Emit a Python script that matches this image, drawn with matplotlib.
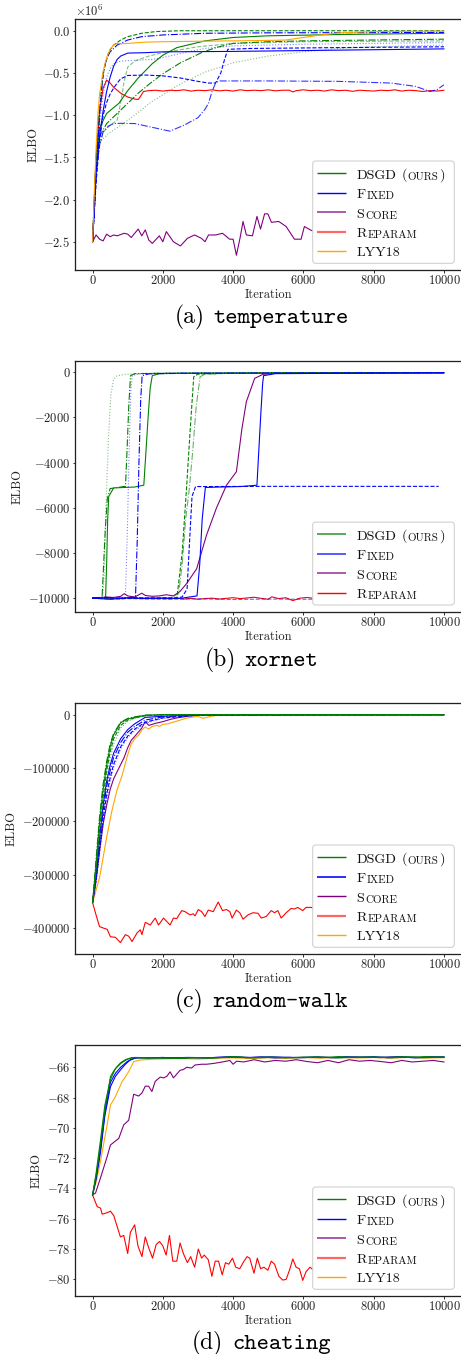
import matplotlib
matplotlib.use("Agg")
import matplotlib.pyplot as plt
from matplotlib.patches import FancyBboxPatch
from matplotlib.lines import Line2D
from matplotlib.text import Annotation
from matplotlib.transforms import IdentityTransform
from matplotlib.offsetbox import TextArea, HPacker, AnchoredOffsetbox

# ---------------- fonturi / stil ----------------
plt.rcParams['font.family'] = 'serif'
plt.rcParams['font.serif'] = ['cmr10']
plt.rcParams['mathtext.fontset'] = 'cm'
plt.rcParams['axes.formatter.use_mathtext'] = True

FIG_W, FIG_H, DPI = 461, 1354, 72

# ============================ (a) temperature (valori x 1e6) ============================
a_dsgd_dashed = [(0, -2.5), (80, -1.7), (160, -1.1), (250, -0.7), (330, -0.45), (460, -0.25), (600, -0.17),
                 (800, -0.11), (1000, -0.07), (1400, -0.03), (1800, -0.01), (2500, 0.0), (10000, 0.0)]
a_dsgd_solid = [(0, -2.5), (100, -1.55), (200, -1.15), (400, -0.98), (750, -0.86), (1000, -0.71), (1300, -0.56),
                (1700, -0.39), (2000, -0.29), (2400, -0.2), (3200, -0.12), (4000, -0.08), (5000, -0.06),
                (7000, -0.045), (10000, -0.03)]
a_dsgd_dashdot = [(0, -2.5), (100, -1.5), (200, -1.25), (400, -1.1), (700, -0.98), (1000, -0.86), (1300, -0.74),
                  (1650, -0.62), (2000, -0.51), (2500, -0.38), (3150, -0.25), (3600, -0.19), (4000, -0.15),
                  (5000, -0.13), (6000, -0.12), (8000, -0.11), (10000, -0.1)]
a_dsgd_dotted = [(0, -2.5), (100, -1.65), (200, -1.32), (450, -1.22), (800, -1.12), (1200, -1.0), (1650, -0.85),
                 (2000, -0.76), (2500, -0.63), (3200, -0.49), (4000, -0.38), (5000, -0.3), (6000, -0.25),
                 (7000, -0.21), (8000, -0.19), (10000, -0.17)]
a_dsgd_dashed2 = [(0, -2.5), (150, -1.45), (300, -1.2), (500, -1.12), (700, -1.06), (800, -0.85), (900, -0.6),
                  (1000, -0.43), (1200, -0.36), (1600, -0.3), (2000, -0.26), (3000, -0.19), (4000, -0.15),
                  (6000, -0.13), (10000, -0.12)]

a_fixed_solid = [(0, -2.5), (100, -1.7), (200, -1.25), (300, -0.95), (400, -0.72), (500, -0.55), (600, -0.42),
                 (700, -0.34), (800, -0.3), (1000, -0.265), (1500, -0.26), (2000, -0.25), (4000, -0.245),
                 (6000, -0.235), (8000, -0.225), (10000, -0.215)]
a_fixed_dashed = [(0, -2.5), (100, -1.8), (200, -1.3), (300, -1.0), (400, -0.85), (500, -0.75), (600, -0.68),
                  (700, -0.62), (800, -0.57), (1000, -0.53), (1500, -0.525), (2000, -0.535), (2500, -0.56),
                  (3000, -0.6), (3300, -0.62), (3500, -0.62), (3650, -0.5), (3750, -0.35), (3850, -0.22),
                  (4500, -0.21), (7000, -0.2), (10000, -0.19)]
a_fixed_dashdot = [(0, -2.5), (100, -1.7), (200, -1.35), (300, -1.2), (450, -1.13), (600, -1.1), (800, -1.097),
                   (1200, -1.1), (1650, -1.14), (2200, -1.19), (2600, -1.12), (3000, -1.03), (3200, -0.93),
                   (3300, -0.86), (3400, -0.72), (3500, -0.62), (3600, -0.595), (5000, -0.595), (7000, -0.6),
                   (8500, -0.62), (9200, -0.66), (9600, -0.72), (9800, -0.7), (10000, -0.64)]
a_fixed_dotted = [(0, -2.5), (100, -1.7), (200, -1.1), (300, -0.75), (400, -0.55), (500, -0.45), (600, -0.39),
                  (800, -0.36), (1200, -0.35), (1700, -0.34), (2200, -0.3), (2700, -0.25), (3200, -0.21),
                  (4000, -0.18), (6000, -0.16), (8000, -0.15), (10000, -0.14)]
a_fixed_dashdot2 = [(0, -2.5), (100, -1.7), (200, -1.0), (300, -0.5), (400, -0.33), (500, -0.25), (700, -0.17),
                    (1000, -0.11), (1400, -0.07), (2000, -0.05), (3200, -0.03), (5000, -0.025), (10000, -0.02)]

a_score = [(0, -2.5), (100, -2.42), (200, -2.47), (300, -2.49), (400, -2.41), (500, -2.44), (600, -2.42),
           (700, -2.43), (900, -2.40), (1000, -2.41), (1100, -2.45), (1300, -2.35), (1400, -2.43), (1500, -2.36),
           (1600, -2.48), (1700, -2.52), (1900, -2.43), (2000, -2.5), (2100, -2.38), (2300, -2.5), (2500, -2.55),
           (2700, -2.46), (2900, -2.42), (3100, -2.46), (3200, -2.5), (3300, -2.42), (3500, -2.42), (3700, -2.4),
           (3900, -2.47), (4000, -2.47), (4094, -2.66), (4200, -2.45), (4283, -2.26), (4377, -2.42),
           (4550, -2.43), (4679, -2.2), (4780, -2.35), (4896, -2.17), (4990, -2.17), (5090, -2.27),
           (5300, -2.26), (5509, -2.32), (5745, -2.47), (5934, -2.47), (6028, -2.32), (6200, -2.36),
           (6400, -2.4), (6700, -2.35), (7000, -2.42), (7300, -2.38), (7600, -2.44), (8000, -2.37),
           (8400, -2.41), (8800, -2.36), (9200, -2.42), (9600, -2.38), (10000, -2.4)]
a_reparam = [(0, -2.5), (100, -1.5), (200, -0.95), (300, -0.68), (400, -0.585), (500, -0.62), (600, -0.67),
             (800, -0.74), (1000, -0.785), (1200, -0.81), (1300, -0.815), (1360, -0.78), (1450, -0.72),
             (1600, -0.71), (1800, -0.705), (2000, -0.715), (2200, -0.705), (2400, -0.71), (2600, -0.7),
             (2800, -0.715), (3000, -0.705), (3200, -0.71), (3400, -0.7), (3600, -0.712), (3800, -0.705),
             (4000, -0.715), (4200, -0.7), (4400, -0.71), (4600, -0.705), (4800, -0.71), (5000, -0.7),
             (5200, -0.712), (5400, -0.705), (5600, -0.705), (5700, -0.725), (5800, -0.71), (6000, -0.7),
             (6200, -0.71), (6400, -0.705), (6600, -0.715), (6800, -0.7), (7000, -0.71), (7200, -0.705),
             (7400, -0.718), (7600, -0.705), (7800, -0.71), (8000, -0.715), (8200, -0.705), (8400, -0.71),
             (8600, -0.7), (8800, -0.715), (9000, -0.705), (9200, -0.71), (9400, -0.72), (9600, -0.71),
             (9800, -0.715), (10000, -0.705)]
a_lyy18 = [(0, -2.5), (50, -1.9), (100, -1.4), (150, -1.0), (200, -0.75), (300, -0.48), (400, -0.32),
           (500, -0.22), (600, -0.17), (700, -0.15), (800, -0.155), (1000, -0.15), (1500, -0.135),
           (2000, -0.13), (3000, -0.125), (4000, -0.12), (5000, -0.115), (5500, -0.11), (6000, -0.08),
           (6500, -0.05), (7000, -0.025), (8000, -0.01), (10000, -0.005)]

# ============================ (b) xornet ============================
b_dsgd_dotted = [(0, -10000), (150, -9980), (290, -9990), (330, -9000), (380, -6000), (450, -3000),
                 (520, -1000), (600, -300), (700, -150), (1000, -80), (2000, -40), (10000, -20)]
b_dsgd_dashdot = [(0, -10000), (150, -9970), (270, -9990), (300, -9000), (360, -7000), (420, -5600),
                  (500, -5150), (700, -5100), (937, -5050), (980, -3500), (1030, -1500), (1080, -150),
                  (1200, -60), (2000, -40), (10000, -20)]
b_dsgd_solid = [(0, -10000), (200, -9980), (370, -9990), (400, -8500), (430, -6500), (460, -5500),
                (600, -5120), (900, -5100), (1200, -5080), (1458, -5000), (1520, -3500), (1580, -2000),
                (1640, -700), (1700, -150), (1900, -60), (3000, -40), (10000, -20)]
b_dsgd_dashed = [(0, -10000), (500, -10010), (1000, -9990), (1500, -10000), (2000, -9980), (2400, -9990),
                 (2550, -8000), (2680, -5000), (2780, -2500), (2879, -200), (3000, -80), (4000, -40),
                 (10000, -20)]
b_dsgd_dashdot2 = [(0, -10000), (600, -9990), (1200, -10010), (1800, -9990), (2200, -10000), (2450, -9800),
                   (2550, -8500), (2650, -6500), (2750, -5200), (2850, -3500), (2950, -1500), (3060, -200),
                   (3200, -80), (4000, -40), (10000, -20)]
b_fixed_dotted = [(0, -10000), (300, -9950), (600, -10010), (900, -9990), (937, -9900), (990, -7000),
                  (1040, -3500), (1090, -800), (1127, -150), (1300, -70), (2000, -40), (10000, -20)]
b_fixed_dashdot = [(0, -10000), (300, -9960), (700, -10000), (1000, -9990), (1222, -9950), (1270, -7500),
                   (1320, -4000), (1370, -1200), (1411, -150), (1600, -70), (2500, -40), (10000, -20)]
b_fixed_dashed = [(0, -10000), (400, -9980), (800, -10030), (1200, -9980), (1600, -10000), (2000, -10010),
                  (2400, -9990), (2547, -9950), (2690, -9600), (2760, -7500), (2830, -5500), (2930, -5060),
                  (5000, -5050), (7000, -5050), (9850, -5050)]
b_fixed_solid = [(0, -10000), (500, -10050), (1000, -9990), (1500, -10020), (2000, -10000), (2500, -10010),
                 (2973, -9900), (3050, -8500), (3120, -6500), (3210, -5100), (3600, -5080), (4200, -5060),
                 (4678, -5000), (4730, -3500), (4790, -1800), (4840, -500), (4867, -150), (5200, -60),
                 (10000, -20)]
b_fixed_dashed2 = [(0, -10000), (500, -10040), (1000, -10020), (2000, -10050), (3000, -10030), (4000, -10060),
                   (5000, -10040), (6000, -10050), (7000, -10040), (8000, -10060), (9000, -10040),
                   (10000, -10050)]
b_score = [(0, -10000), (200, -9980), (400, -9950), (600, -9970), (800, -9920), (900, -9800), (1000, -9900),
           (1200, -9950), (1400, -9780), (1500, -9880), (1700, -9920), (1900, -9900), (2100, -9850),
           (2300, -9900), (2490, -9700), (2679, -9350), (2962, -8700), (3245, -7200), (3528, -6000),
           (3811, -5000), (4094, -4400), (4250, -2500), (4377, -1300), (4613, -270), (4849, -90),
           (5200, -40), (6000, -30), (8000, -20), (10000, -20)]
b_reparam = [(0, -10000), (200, -9980), (400, -10010), (600, -9990), (800, -10020), (1000, -9980),
             (1200, -10000), (1400, -10010), (1600, -9990), (1800, -10020), (2000, -10000), (2200, -10030),
             (2400, -10000), (2600, -10040), (2800, -10010), (3000, -10050), (3200, -10020), (3400, -10000),
             (3600, -10040), (3800, -10010), (4000, -9980), (4200, -10020), (4400, -9990), (4600, -9960),
             (4800, -10010), (5000, -10050), (5100, -9940), (5300, -10020), (5500, -9980), (5700, -10110),
             (5900, -10000), (6100, -9970), (6300, -10010), (6600, -9990), (7000, -10020), (7400, -9980),
             (7800, -10010), (8200, -9990), (8600, -10020), (9000, -9990), (9400, -10010), (9800, -9990),
             (10000, -10000)]

# ============================ (c) random-walk (valori x 1000) ============================
c_iter = [0, 100, 200, 300, 400, 500, 600, 800, 1000, 1200, 1500, 2000, 3000, 10000]
c_dsgd_solid = [-352, -280, -200, -140, -95, -60, -38, -15, -8, -5, -1, 0, 0, 0]
c_dsgd_dashed = [-352, -290, -215, -155, -105, -70, -45, -20, -10, -6, -2, -0.5, 0, 0]
c_dsgd_dashdot = [-352, -270, -190, -130, -88, -55, -35, -14, -7, -4, -1, 0, 0, 0]
c_dsgd_dotted = [-352, -300, -230, -170, -120, -82, -55, -25, -12, -7, -2, -1, 0, 0]
c_fixed_solid = [-352, -300, -230, -170, -125, -95, -72, -45, -28, -17, -5, -3, 0, 0]
c_fixed_dashed = [-352, -310, -250, -195, -150, -118, -93, -60, -40, -27, -14, -6, -1, 0]
c_fixed_dashdot = [-352, -305, -240, -180, -135, -105, -80, -52, -33, -22, -10, -4, 0, 0]
c_fixed_dotted = [-352, -315, -260, -205, -160, -125, -98, -64, -43, -30, -16, -7, -1, 0]
c_score = [(0, -352), (100, -310), (200, -255), (300, -205), (400, -170), (500, -140), (600, -120),
           (750, -100), (900, -80), (1000, -62), (1100, -48), (1222, -39), (1300, -33), (1400, -25),
           (1500, -13), (1600, -20), (1700, -18), (1800, -16), (2000, -13), (2200, -9), (2400, -6),
           (2600, -4), (2800, -2), (3000, -1), (3500, 0), (10000, 0)]
c_lyy18 = [(0, -352), (200, -305), (400, -230), (550, -180), (700, -140), (844, -113), (1000, -75),
           (1100, -55), (1200, -45), (1316, -38), (1410, -28), (1500, -23), (1594, -27), (1700, -22),
           (1830, -20), (1900, -22), (2000, -18), (2150, -17), (2300, -14), (2500, -10), (2700, -6),
           (2868, -4.4), (3000, -3), (3151, -7), (3300, -4), (3528, -1.2), (3800, -1), (4200, -0.5),
           (4500, -1.5), (5000, -0.5), (6000, -0.5), (7000, 0), (8000, -0.5), (9000, 0), (10000, 0)]
c_reparam = [(0, -352), (85, -372), (198, -397), (320, -400), (415, -402), (509, -416), (650, -417),
             (792, -427), (934, -412), (1028, -415), (1123, -425), (1264, -409), (1358, -403), (1405, -412),
             (1500, -389), (1641, -394), (1783, -381), (1877, -394), (2019, -381), (2207, -394), (2302, -381),
             (2396, -382), (2537, -367), (2632, -369), (2773, -375), (2868, -373), (2915, -377), (3009, -365),
             (3104, -369), (3198, -378), (3292, -366), (3434, -369), (3575, -351), (3698, -367), (3811, -365),
             (3906, -369), (3972, -381), (4094, -366), (4189, -371), (4283, -383), (4425, -375), (4566, -371),
             (4708, -372), (4802, -381), (4943, -378), (5085, -367), (5179, -371), (5273, -367), (5368, -381),
             (5509, -371), (5651, -363), (5745, -364), (5840, -361), (5981, -367), (6075, -361), (6217, -361),
             (6400, -364), (6700, -360), (7000, -363), (7300, -358), (7600, -362), (8000, -357), (8400, -360),
             (8800, -356), (9200, -359), (9600, -355), (10000, -357)]

# ============================ (d) cheating ============================
d_dsgd_a = [(0, -74.43), (100, -73.2), (226, -71.1), (350, -68.8), (509, -66.62), (600, -66.25), (698, -65.95),
            (800, -65.7), (934, -65.5), (1123, -65.36), (1500, -65.4), (2000, -65.38), (2500, -65.42),
            (3000, -65.37), (3500, -65.38), (4000, -65.3), (4500, -65.36), (5000, -65.33), (5500, -65.38),
            (6000, -65.33), (6500, -65.36), (7000, -65.3), (7500, -65.35), (8000, -65.32), (8500, -65.37),
            (9000, -65.33), (9500, -65.3), (10000, -65.34)]
d_dsgd_b = [(0, -74.43), (100, -73.0), (226, -70.8), (350, -68.5), (509, -66.8), (650, -66.1), (800, -65.75),
            (1000, -65.45), (1200, -65.35), (1600, -65.37), (2200, -65.4), (2800, -65.36), (3400, -65.39),
            (4000, -65.33), (4600, -65.38), (5200, -65.34), (5800, -65.37), (6400, -65.32), (7000, -65.38),
            (7600, -65.33), (8200, -65.36), (8800, -65.31), (9400, -65.37), (10000, -65.33)]
d_fixed_a = [(0, -74.43), (100, -73.4), (226, -71.6), (350, -69.2), (509, -67.28), (650, -66.6), (792, -66.18),
             (934, -65.8), (1075, -65.5), (1264, -65.36), (1600, -65.38), (2000, -65.35), (2400, -65.4),
             (2800, -65.36), (3200, -65.38), (3600, -65.34), (4000, -65.3), (4400, -65.37), (4800, -65.32),
             (5200, -65.38), (5600, -65.34), (6000, -65.37), (6400, -65.32), (6800, -65.36), (7200, -65.3),
             (7600, -65.35), (8000, -65.3), (8400, -65.37), (8800, -65.33), (9200, -65.38), (9600, -65.3),
             (10000, -65.33)]
d_fixed_b = [(0, -74.43), (100, -73.3), (226, -71.4), (350, -69.0), (509, -67.0), (650, -66.4), (800, -66.0),
             (1000, -65.6), (1200, -65.4), (1500, -65.36), (2100, -65.39), (2700, -65.35), (3300, -65.37),
             (3900, -65.32), (4500, -65.35), (5100, -65.31), (5700, -65.36), (6300, -65.33), (6900, -65.37),
             (7500, -65.32), (8100, -65.35), (8700, -65.3), (9300, -65.36), (10000, -65.32)]
d_lyy18 = [(0, -74.43), (100, -73.6), (226, -72.2), (415, -69.8), (509, -68.49), (650, -67.94), (840, -66.95),
           (1028, -66.29), (1170, -65.63), (1358, -65.52), (1700, -65.47), (2000, -65.45), (2500, -65.42),
           (3000, -65.46), (3500, -65.4), (4000, -65.38), (4500, -65.42), (5000, -65.37), (5500, -65.41),
           (6000, -65.36), (6500, -65.4), (7000, -65.35), (7500, -65.39), (8000, -65.36), (8500, -65.4),
           (9000, -65.35), (9500, -65.39), (10000, -65.37)]
d_score = [(0, -74.43), (85, -74.3), (226, -73.3), (415, -71.9), (509, -71.13), (650, -70.87), (745, -70.7),
           (887, -69.8), (1028, -69.5), (1170, -67.78), (1311, -67.9), (1405, -67.7), (1500, -67.25),
           (1594, -67.25), (1689, -67.6), (1783, -66.93), (1925, -66.65), (2019, -66.7), (2113, -66.6),
           (2207, -66.3), (2302, -66.7), (2490, -66.2), (2585, -66.15), (2679, -66.0), (2820, -66.05),
           (2915, -65.85), (3104, -65.8), (3245, -65.8), (3434, -65.75), (3622, -65.68), (3811, -65.6),
           (3906, -65.55), (4000, -65.8), (4100, -65.6), (4300, -65.65), (4600, -65.5), (4900, -65.65),
           (5200, -65.55), (5500, -65.6), (5800, -65.5), (6100, -65.62), (6400, -65.7), (6700, -65.55),
           (7000, -65.7), (7300, -65.5), (7600, -65.6), (7900, -65.55), (8200, -65.62), (8500, -65.7),
           (8800, -65.55), (9100, -65.65), (9400, -65.6), (9700, -65.55), (10000, -65.65)]
d_reparam = [(0, -74.43), (132, -75.2), (226, -75.3), (273, -75.7), (415, -75.6), (509, -75.5), (604, -75.8),
             (698, -76.5), (792, -77.2), (887, -77.1), (1000, -78.3), (1075, -76.9), (1198, -76.4),
             (1292, -77.8), (1405, -78.5), (1500, -77.2), (1594, -77.9), (1707, -78.6), (1811, -77.7),
             (1906, -77.5), (2000, -77.8), (2094, -78.4), (2189, -77.1), (2283, -78.8), (2396, -78.8),
             (2490, -77.6), (2585, -78.3), (2698, -78.9), (2792, -78.5), (2905, -79.2), (3009, -78.0),
             (3104, -78.6), (3179, -78.4), (3292, -78.7), (3396, -79.8), (3490, -78.8), (3585, -78.8),
             (3689, -79.7), (3783, -78.9), (3877, -79.0), (3981, -78.6), (4075, -79.2), (4189, -79.3),
             (4283, -78.9), (4396, -78.5), (4472, -78.6), (4594, -79.6), (4689, -78.6), (4783, -79.3),
             (4877, -79.2), (4990, -79.4), (5085, -78.8), (5179, -79.0), (5302, -79.8), (5415, -80.05),
             (5509, -80.0), (5604, -79.4), (5698, -78.65), (5792, -79.2), (5887, -79.3), (5981, -80.07),
             (6075, -79.5), (6189, -79.2), (6400, -79.6), (6700, -79.3), (7000, -79.8), (7300, -79.4),
             (7600, -79.7), (8000, -79.3), (8400, -79.9), (8800, -79.5), (9200, -79.8), (9600, -79.4),
             (10000, -79.6)]

x_ticks = [0, 2000, 4000, 6000, 8000, 10000]
captions = [("(a)", "temperature"), ("(b)", "xornet"), ("(c)", "random-walk"), ("(d)", "cheating")]

# ---------------- geometrie (pixeli) ----------------
panel_px = [(19, 270), (361, 611.7), (703.3, 954), (1045, 1296)]   # sus, jos
caption_y = [317, 660, 1001, 1343]
AX_LEFT, AX_RIGHT = 75, 461.5

fig = plt.figure(figsize=(FIG_W / DPI, FIG_H / DPI), dpi=DPI)
axes = []
for top, bot in panel_px:
    ax = fig.add_axes([AX_LEFT / FIG_W, 1 - bot / FIG_H, (AX_RIGHT - AX_LEFT) / FIG_W, (bot - top) / FIG_H])
    axes.append(ax)

LW = 1.1


def draw(ax, pts, scale=1.0, **kw):
    xs = [p[0] for p in pts]
    ys = [p[1] * scale for p in pts]
    kw.setdefault('lw', LW)
    ax.plot(xs, ys, **kw)


# ---- (a)
ax = axes[0]
M = 1e6
draw(ax, a_score, M, color='purple')
draw(ax, a_reparam, M, color='red')
draw(ax, a_dsgd_dotted, M, color='green', ls=':', alpha=0.5)
draw(ax, a_dsgd_dashed2, M, color='green', ls='--', alpha=0.5)
draw(ax, a_dsgd_dashdot, M, color='green', ls='-.')
draw(ax, a_dsgd_solid, M, color='green')
draw(ax, a_dsgd_dashed, M, color='green', ls='--')
draw(ax, a_fixed_dotted, M, color='blue', ls=':', alpha=0.5)
draw(ax, a_fixed_dashdot, M, color='blue', ls='-.', alpha=0.8)
draw(ax, a_fixed_dashed, M, color='blue', ls='--')
draw(ax, a_fixed_solid, M, color='blue')
draw(ax, a_fixed_dashdot2, M, color='blue', ls='-.')
draw(ax, a_lyy18, M, color='orange')
ax.set_ylim(-2.835e6, 0.139e6)
ax.set_yticks([0, -0.5e6, -1.0e6, -1.5e6, -2.0e6, -2.5e6])
ax.ticklabel_format(axis='y', style='sci', scilimits=(6, 6), useMathText=True)

# ---- (b)
ax = axes[1]
draw(ax, b_reparam, color='red')
draw(ax, b_fixed_dashed2, color='blue', ls='--', alpha=0.6)
draw(ax, b_score, color='purple')
draw(ax, b_dsgd_dotted, color='green', ls=':', alpha=0.5)
draw(ax, b_dsgd_dashdot, color='green', ls='-.')
draw(ax, b_dsgd_solid, color='green')
draw(ax, b_dsgd_dashed, color='green', ls='--')
draw(ax, b_dsgd_dashdot2, color='green', ls='-.', alpha=0.6)
draw(ax, b_fixed_dotted, color='blue', ls=':', alpha=0.5)
draw(ax, b_fixed_dashdot, color='blue', ls='-.')
draw(ax, b_fixed_dashed, color='blue', ls='--')
draw(ax, b_fixed_solid, color='blue')
ax.set_ylim(-10600, 500)
ax.set_yticks([0, -2000, -4000, -6000, -8000, -10000])

# ---- (c)
ax = axes[2]
K = 1000
cpts = lambda ys: list(zip(c_iter, ys))
draw(ax, c_reparam, K, color='red')
draw(ax, c_lyy18, K, color='orange')
draw(ax, c_score, K, color='purple')
draw(ax, cpts(c_fixed_dotted), K, color='blue', ls=':', alpha=0.6)
draw(ax, cpts(c_fixed_dashed), K, color='blue', ls='--')
draw(ax, cpts(c_fixed_dashdot), K, color='blue', ls='-.')
draw(ax, cpts(c_fixed_solid), K, color='blue')
draw(ax, cpts(c_dsgd_dotted), K, color='green', ls=':', alpha=0.6)
draw(ax, cpts(c_dsgd_dashed), K, color='green', ls='--')
draw(ax, cpts(c_dsgd_dashdot), K, color='green', ls='-.')
draw(ax, cpts(c_dsgd_solid), K, color='green')
ax.set_ylim(-448300, 21350)
ax.set_yticks([0, -100000, -200000, -300000, -400000])

# ---- (d)
ax = axes[3]
draw(ax, d_reparam, color='red')
draw(ax, d_score, color='purple')
draw(ax, d_lyy18, color='orange')
draw(ax, d_fixed_b, color='blue')
draw(ax, d_fixed_a, color='blue')
draw(ax, d_dsgd_b, color='green')
draw(ax, d_dsgd_a, color='green')
ax.set_ylim(-81.1, -64.53)
ax.set_yticks([-66, -68, -70, -72, -74, -76, -78, -80])

for ax in axes:
    ax.set_xlim(-500, 10500)
    ax.set_xticks(x_ticks)
    ax.tick_params(labelsize=12.5, length=2.5, width=0.8, pad=2, labelcolor='#222222')
    ax.set_xlabel('Iteration', fontsize=12.5, labelpad=1.5, color='#222222')
    ax.set_ylabel('ELBO', fontsize=12.5, labelpad=4, color='#222222')
    for s in ax.spines.values():
        s.set_linewidth(1.3)
        s.set_color('#222222')
axes[0].yaxis.get_offset_text().set_fontsize(12.5)


# ---------------- legenda (small caps construite manual, in pixeli) ----------------
def add_legend(ax, entries):
    bb = ax.get_position()
    right = bb.x1 * FIG_W - 7.2
    bottom = bb.y0 * FIG_H + 6.7
    w = 141.6
    h = 24.7 + 19.4 * (len(entries) - 1)
    x0 = right - w
    frame = FancyBboxPatch((x0, bottom), w, h, boxstyle="round,pad=0,rounding_size=3",
                           transform=IdentityTransform(), facecolor='white', edgecolor='#cccccc',
                           lw=1.0, zorder=5)
    ax.add_patch(frame)
    for i, (pieces, style) in enumerate(entries):
        yc = bottom + h - 12.3 - 19.4 * i
        ax.add_line(Line2D([x0 + 4.6, x0 + 33], [yc, yc], transform=IdentityTransform(), zorder=6,
                           solid_capstyle='butt', **style))
        prev = None
        for s, size, gap in pieces:
            if prev is None:
                prev = ax.text(x0 + 44, yc - 5.5, s, transform=IdentityTransform(), fontsize=size,
                               va='baseline', ha='left', zorder=7, color='#111111')
            else:
                ann = Annotation(s, xy=(1, 0), xycoords=prev, xytext=(gap, 0), textcoords='offset pixels',
                                 fontsize=size, va='bottom', ha='left', zorder=7, color='#111111')
                ax.add_artist(ann)
                prev = ann


BIG, SMALL = 14, 11
lab_dsgd = [("DSGD", BIG, 0), ("(", BIG, 5), ("OURS", SMALL, 0.5), (")", BIG, 0.5)]
lab_fixed = [("F", BIG, 0), ("IXED", SMALL, 0.5)]
lab_score = [("S", BIG, 0), ("CORE", SMALL, 0.5)]
lab_reparam = [("R", BIG, 0), ("EPARAM", SMALL, 0.5)]
lab_lyy = [("LYY18", BIG, 0)]

add_legend(axes[0], [(lab_dsgd, dict(color='green', lw=1.4)), (lab_fixed, dict(color='blue', lw=1.4)),
                     (lab_score, dict(color='purple', lw=1.8, alpha=0.7)),
                     (lab_reparam, dict(color='red', lw=2.2, alpha=0.6)),
                     (lab_lyy, dict(color='orange', lw=1.4))])
add_legend(axes[1], [(lab_dsgd, dict(color='green', lw=1.6, alpha=0.8)),
                     (lab_fixed, dict(color='blue', lw=1.8, alpha=0.7)),
                     (lab_score, dict(color='purple', lw=1.8, alpha=0.7)),
                     (lab_reparam, dict(color='red', lw=1.4))])
add_legend(axes[2], [(lab_dsgd, dict(color='green', lw=1.4)), (lab_fixed, dict(color='blue', lw=1.6)),
                     (lab_score, dict(color='purple', lw=1.4)),
                     (lab_reparam, dict(color='red', lw=2.2, alpha=0.6)),
                     (lab_lyy, dict(color='orange', lw=1.4))])
add_legend(axes[3], [(lab_dsgd, dict(color='green', lw=1.4)), (lab_fixed, dict(color='blue', lw=1.4)),
                     (lab_score, dict(color='purple', lw=1.6, alpha=0.8)),
                     (lab_reparam, dict(color='red', lw=2.2, alpha=0.6)),
                     (lab_lyy, dict(color='orange', lw=1.4))])

# ---------------- subtitluri ----------------
for (tag, name), yc in zip(captions, caption_y):
    pack = HPacker(children=[TextArea(tag, textprops=dict(fontsize=23.5, family='serif')),
                             TextArea(name, textprops=dict(fontsize=23.5, family='cmtt10'))],
                   align='baseline', pad=0, sep=9)
    box = AnchoredOffsetbox(loc='center', child=pack, pad=0, borderpad=0, frameon=False,
                            bbox_to_anchor=(261.5, FIG_H - yc), bbox_transform=IdentityTransform())
    fig.add_artist(box)

fig.savefig('out.png', dpi=DPI)
